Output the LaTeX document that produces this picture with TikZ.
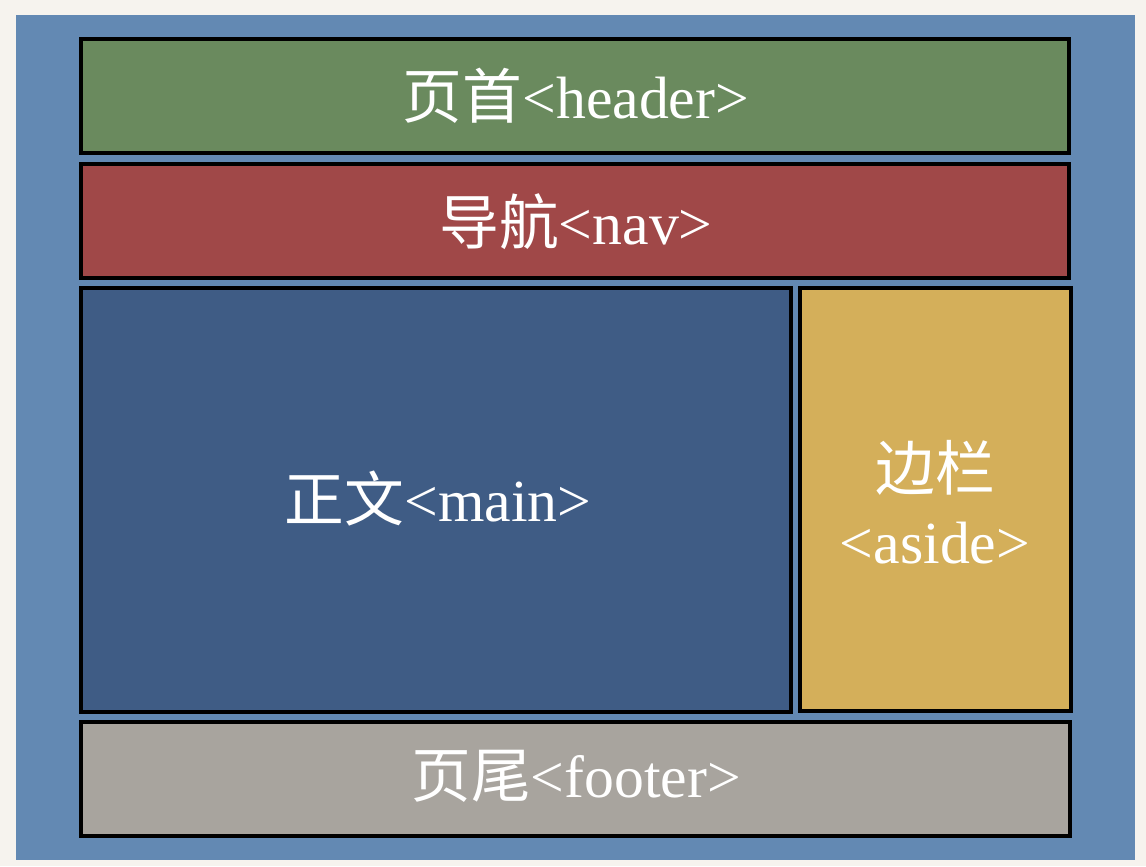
\documentclass[tikz,border=0pt]{standalone}
\usepackage{fontspec}
\setmainfont{Liberation Serif}
\newfontfamily\cjk{Noto Sans CJK SC}
\definecolor{paper}{HTML}{F6F3EE}
\definecolor{outerblue}{HTML}{6389B3}
\definecolor{hdrgreen}{HTML}{6A8A5E}
\definecolor{navred}{HTML}{A04848}
\definecolor{mainblue}{HTML}{3F5C85}
\definecolor{asidegold}{HTML}{D4AF5A}
\definecolor{footgray}{HTML}{A8A49E}
\begin{document}
\begin{tikzpicture}[x=0.02cm,y=-0.02cm,
  region/.style={draw=black,line width=2.5pt,inner sep=0pt,outer sep=0pt},
  label/.style={text=white,font=\fontsize{34}{40}\selectfont,inner sep=0pt,anchor=base}]
\fill[paper] (0,0) rectangle (1146,866);
\useasboundingbox (0,0) rectangle (1146,866);
\fill[outerblue] (16,15) rectangle (1135,860);
\node[region,fill=hdrgreen,minimum width=19.76cm,minimum height=2.28cm] (header) at (575,96) {};
\node[region,fill=navred,minimum width=19.76cm,minimum height=2.28cm] (nav) at (575,221) {};
\node[region,fill=mainblue,minimum width=14.2cm,minimum height=8.48cm] (main) at (436,500) {};
\node[region,fill=asidegold,minimum width=5.42cm,minimum height=8.46cm] (aside) at (935.5,499.5) {};
\node[region,fill=footgray,minimum width=19.78cm,minimum height=2.28cm] (footer) at (575.5,779) {};
\node[label] (headertext) at (576,118) {{\cjk 页首}<header>};
\node[label] (navtext) at (576,244) {{\cjk 导航}<nav>};
\node[label] (maintext) at (438,521) {{\cjk 正文}<main>};
\node[label] (asidetext1) at (935,490) {{\cjk 边栏}};
\node[label] (asidetext2) at (935,563) {<aside>};
\node[label] (footertext) at (576,797) {{\cjk 页尾}<footer>};
\end{tikzpicture}
\end{document}
